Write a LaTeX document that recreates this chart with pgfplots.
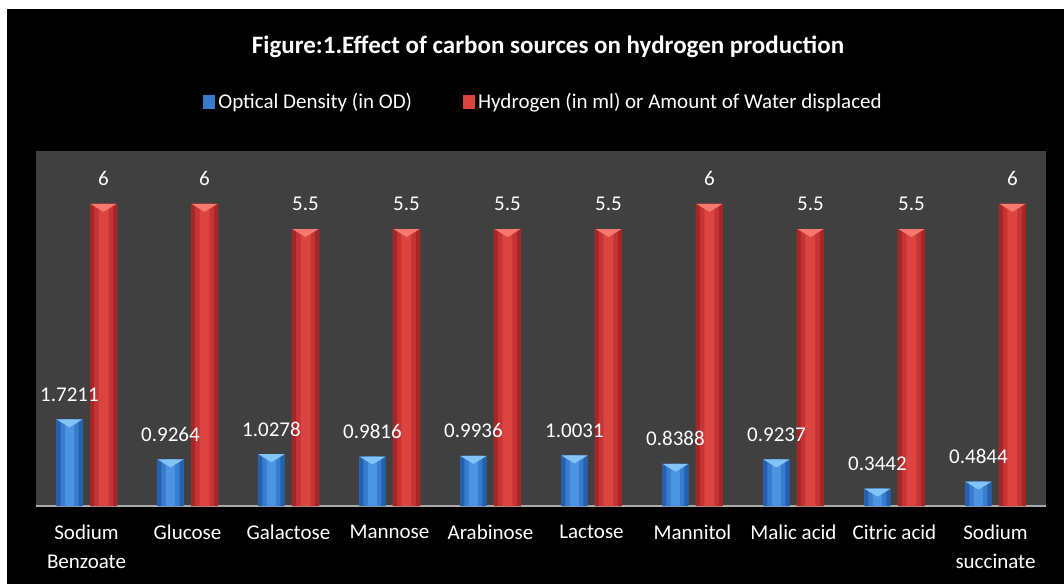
\documentclass[border=0pt]{standalone}
\usepackage{pgfplots}
\pgfplotsset{compat=1.18}
\usepackage{fontspec}
\setmainfont{Carlito}
\definecolor{bgray}{RGB}{64,64,64}
\definecolor{blueA}{RGB}{36,96,176}
\definecolor{blueB}{RGB}{56,124,206}
\definecolor{blueC}{RGB}{76,148,226}
\definecolor{bluechev}{RGB}{130,196,248}
\definecolor{redA}{RGB}{166,38,38}
\definecolor{redB}{RGB}{196,52,52}
\definecolor{redC}{RGB}{220,68,64}
\definecolor{redchev}{RGB}{246,120,110}
\definecolor{baseline}{RGB}{170,170,170}
\pgfdeclareplotmark{chev}{%
  \pgfpathmoveto{\pgfpoint{-13pt}{0pt}}%
  \pgfpathlineto{\pgfpoint{13pt}{0pt}}%
  \pgfpathlineto{\pgfpoint{0pt}{-8pt}}%
  \pgfpathclose\pgfusepathqfill}
\pgfplotstableread{
x od h
0 1.7211 6
1 0.9264 6
2 1.0278 5.5
3 0.9816 5.5
4 0.9936 5.5
5 1.0031 5.5
6 0.8388 6
7 0.9237 5.5
8 0.3442 5.5
9 0.4844 6
}\datatable
\begin{document}
\begin{tikzpicture}[x=1pt,y=1pt]
\fill[white] (0,0) rectangle (1064,584);
\fill[black] (7,0) rectangle (1064,575);
\node[text=white, font=\fontsize{25}{29}\selectfont\bfseries] at (548,537) {Figure:1.Effect of carbon sources on hydrogen production};
\begin{axis}[
  at={(36pt,78pt)}, anchor=south west,
  scale only axis, width=1010pt, height=355pt,
  xmin=-0.5, xmax=9.5, ymin=0, ymax=7.05,
  axis background/.style={fill=bgray},
  axis x line*=bottom, axis y line=none,
  x axis line style={color=baseline, line width=2pt, -},
  xtick={0,...,9},
  xticklabels={{Sodium\\Benzoate},Glucose,Galactose,Mannose,Arabinose,Lactose,Mannitol,{Malic acid},{Citric acid},{Sodium\\succinate}},
  major tick length=0pt,
  xticklabel style={align=center, text=white, font=\fontsize{21}{29}\selectfont, yshift=-15pt},
  ybar,
  every node near coord/.append style={anchor=center, yshift=25pt, text=white, font=\fontsize{21}{25}\selectfont},
  legend columns=2,
  legend style={at={(0.503,1.138)}, anchor=center, draw=none, fill=none, text=white,
    font=\fontsize{21}{25}\selectfont, /tikz/every even column/.append style={column sep=48pt},
    nodes={inner xsep=3pt}},
  legend image code/.code={\path[#1, draw=none] (0pt,-7pt) rectangle (12pt,7pt);},
]
% Optical density: base bar with labels
\addplot[draw=none, fill=blueB, bar width=26pt, bar shift=-17pt,
  nodes near coords, point meta=explicit symbolic]
  table[x=x, y=od, meta=od] {\datatable};
\addlegendentry{Optical Density (in OD)}
% Hydrogen: base bar with labels
\addplot[draw=none, fill=redC, bar width=27pt, bar shift=17pt,
  nodes near coords, point meta=explicit symbolic]
  table[x=x, y=h, meta=h] {\datatable};
\addlegendentry{Hydrogen (in ml) or Amount of Water displaced}
% shading layers
\addplot[forget plot, draw=none, fill=blueA, bar width=26pt, bar shift=-17pt] table[x=x, y=od] {\datatable};
\addplot[forget plot, draw=none, fill=blueB, bar width=18pt, bar shift=-17pt] table[x=x, y=od] {\datatable};
\addplot[forget plot, draw=none, fill=blueC, bar width=9pt, bar shift=-17pt] table[x=x, y=od] {\datatable};
\addplot[forget plot, draw=none, fill=redA, bar width=27pt, bar shift=17pt] table[x=x, y=h] {\datatable};
\addplot[forget plot, draw=none, fill=redB, bar width=19pt, bar shift=17pt] table[x=x, y=h] {\datatable};
\addplot[forget plot, draw=none, fill=redC, bar width=10pt, bar shift=17pt] table[x=x, y=h] {\datatable};
% bevel tops
\addplot[forget plot, only marks, mark=chev, color=bluechev, mark options={xshift=-17pt}] table[x=x, y=od] {\datatable};
\addplot[forget plot, only marks, mark=chev, color=redchev, mark options={xshift=17pt}] table[x=x, y=h] {\datatable};
\end{axis}
\end{tikzpicture}
\end{document}
